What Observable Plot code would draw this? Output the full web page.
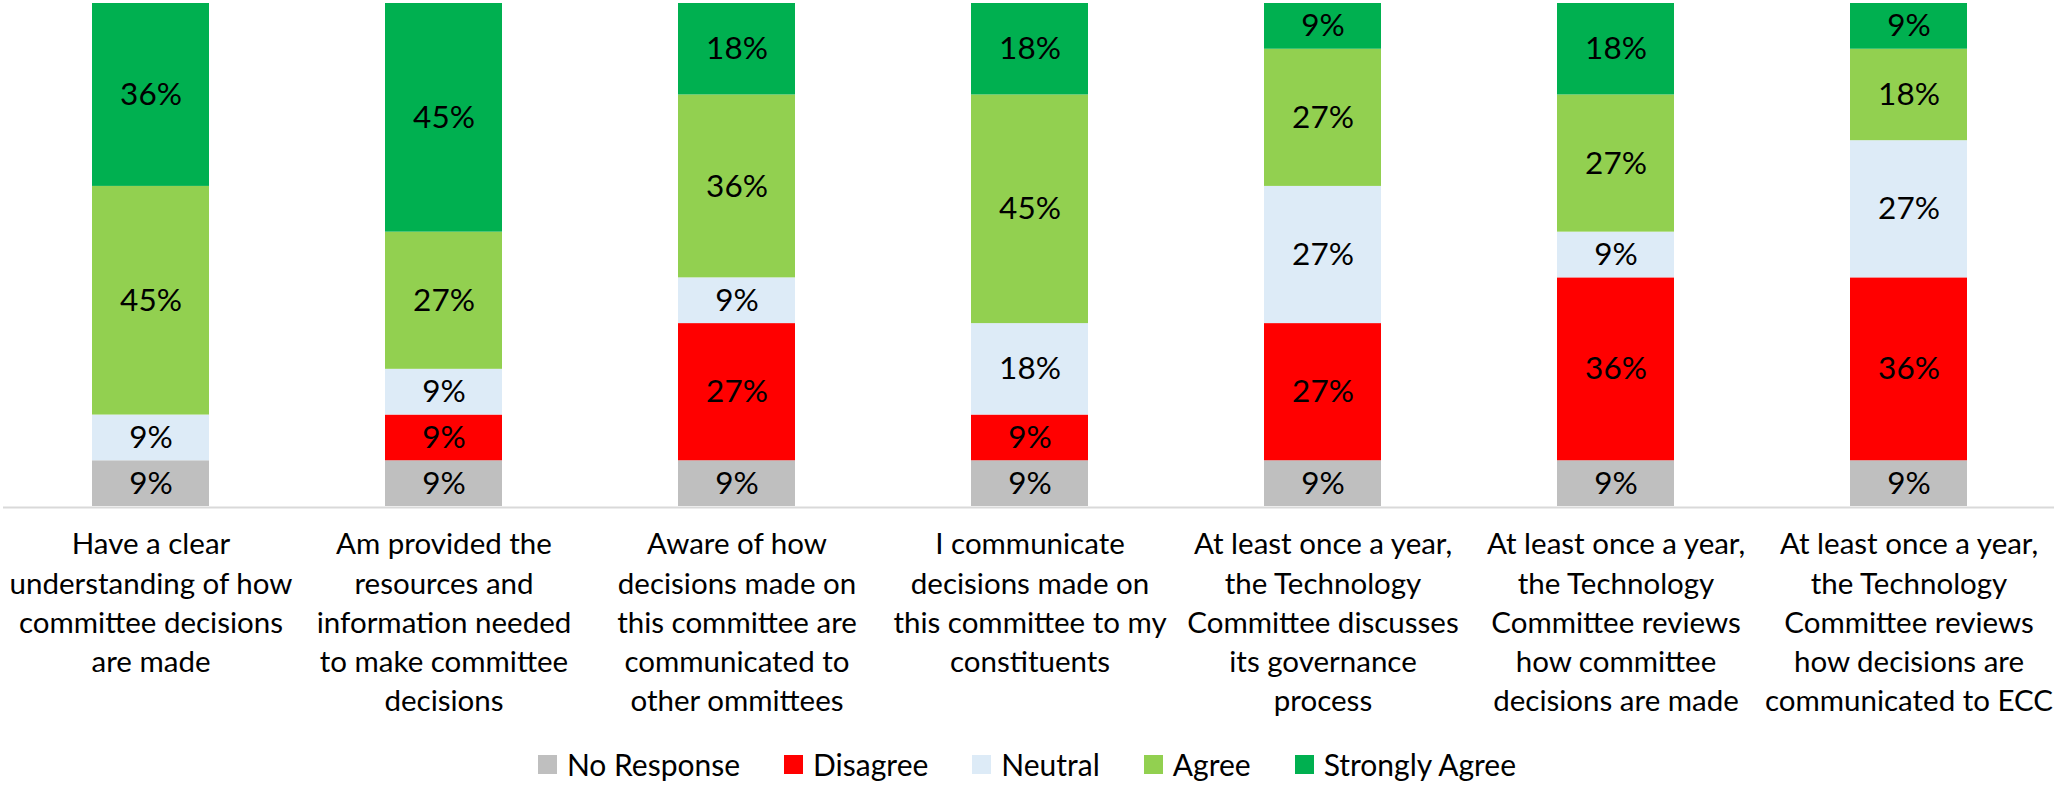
<!DOCTYPE html>
<html>
<head>
<meta charset="utf-8">
<script src="https://cdn.jsdelivr.net/npm/d3@7"></script>
<script src="https://cdn.jsdelivr.net/npm/@observablehq/plot@0.6"></script>
<style>
  html, body { margin: 0; padding: 0; background: #fff; }
  body { width: 2054px; height: 787px; overflow: hidden; font-family: Lato, sans-serif; color: #000; }
  #legend { margin-top: 16px; }
  #legend .lg-swatches { justify-content: center; margin: 0; }
  #legend .lg-swatch { margin-right: 44px !important; color: #000; }
  #legend .lg-swatch:last-child { margin-right: 0 !important; }
  #legend .lg-swatch > svg { margin-right: 10px !important; }
</style>
</head>
<body>
<div id="chart"></div>
<div id="legend"></div>
<script>
const categories = [
  "Have a clear\nunderstanding of how\ncommittee decisions\nare made",
  "Am provided the\nresources and\ninformation needed\nto make committee\ndecisions",
  "Aware of how\ndecisions made on\nthis committee are\ncommunicated to\nother ommittees",
  "I communicate\ndecisions made on\nthis committee to my\nconstituents",
  "At least once a year,\nthe Technology\nCommittee discusses\nits governance\nprocess",
  "At least once a year,\nthe Technology\nCommittee reviews\nhow committee\ndecisions are made",
  "At least once a year,\nthe Technology\nCommittee reviews\nhow decisions are\ncommunicated to ECC"
];
const responses = ["No Response", "Disagree", "Neutral", "Agree", "Strongly Agree"];
const colors = ["#BFBFBF", "#FF0000", "#DDEBF7", "#92D050", "#00B050"];

// percentages, one entry per category
const noResponse    = [9, 9, 9, 9, 9, 9, 9];
const disagree      = [0, 9, 27, 9, 27, 36, 36];
const neutral       = [9, 9, 9, 18, 27, 9, 27];
const agree         = [45, 27, 36, 45, 27, 27, 18];
const stronglyAgree = [36, 45, 18, 18, 9, 18, 9];

const series = [noResponse, disagree, neutral, agree, stronglyAgree];
const data = [];
categories.forEach((c, i) => {
  responses.forEach((r, j) => {
    const v = series[j][i];
    if (v > 0) data.push({category: c, response: r, value: v});
  });
});

const plot = Plot.plot({
  width: 2054,
  height: 730,
  marginTop: 3,
  marginBottom: 224,
  marginLeft: 3,
  marginRight: -3,
  x: {domain: categories, paddingInner: 0.6, paddingOuter: 0.3, label: null},
  y: {axis: null, domain: [0, 1]},
  color: {domain: responses, range: colors},
  style: {fontFamily: "Lato, sans-serif", background: "white", color: "black", overflow: "visible"},
  marks: [
    Plot.barY(data, Plot.stackY({x: "category", y: "value", fill: "response", offset: "normalize", order: responses})),
    Plot.text(data, Plot.stackY({x: "category", y: "value", z: "response", offset: "normalize", order: responses,
      text: d => d.value + "%", fill: "black", fontSize: 31.5})),
    Plot.ruleY([0], {stroke: "#D9D9D9", strokeWidth: 2, dy: 1}),
    Plot.axisX({tickSize: 0, tickPadding: 20, fontSize: 29.5, lineHeight: 1.33, label: null})
  ]
});
document.getElementById("chart").append(plot);

const legend = plot.legend("color", {
  swatchSize: 19,
  className: "lg",
  style: {fontSize: "30px", fontFamily: "Lato, sans-serif", color: "black"}
});
document.getElementById("legend").append(legend);
</script>
</body>
</html>
